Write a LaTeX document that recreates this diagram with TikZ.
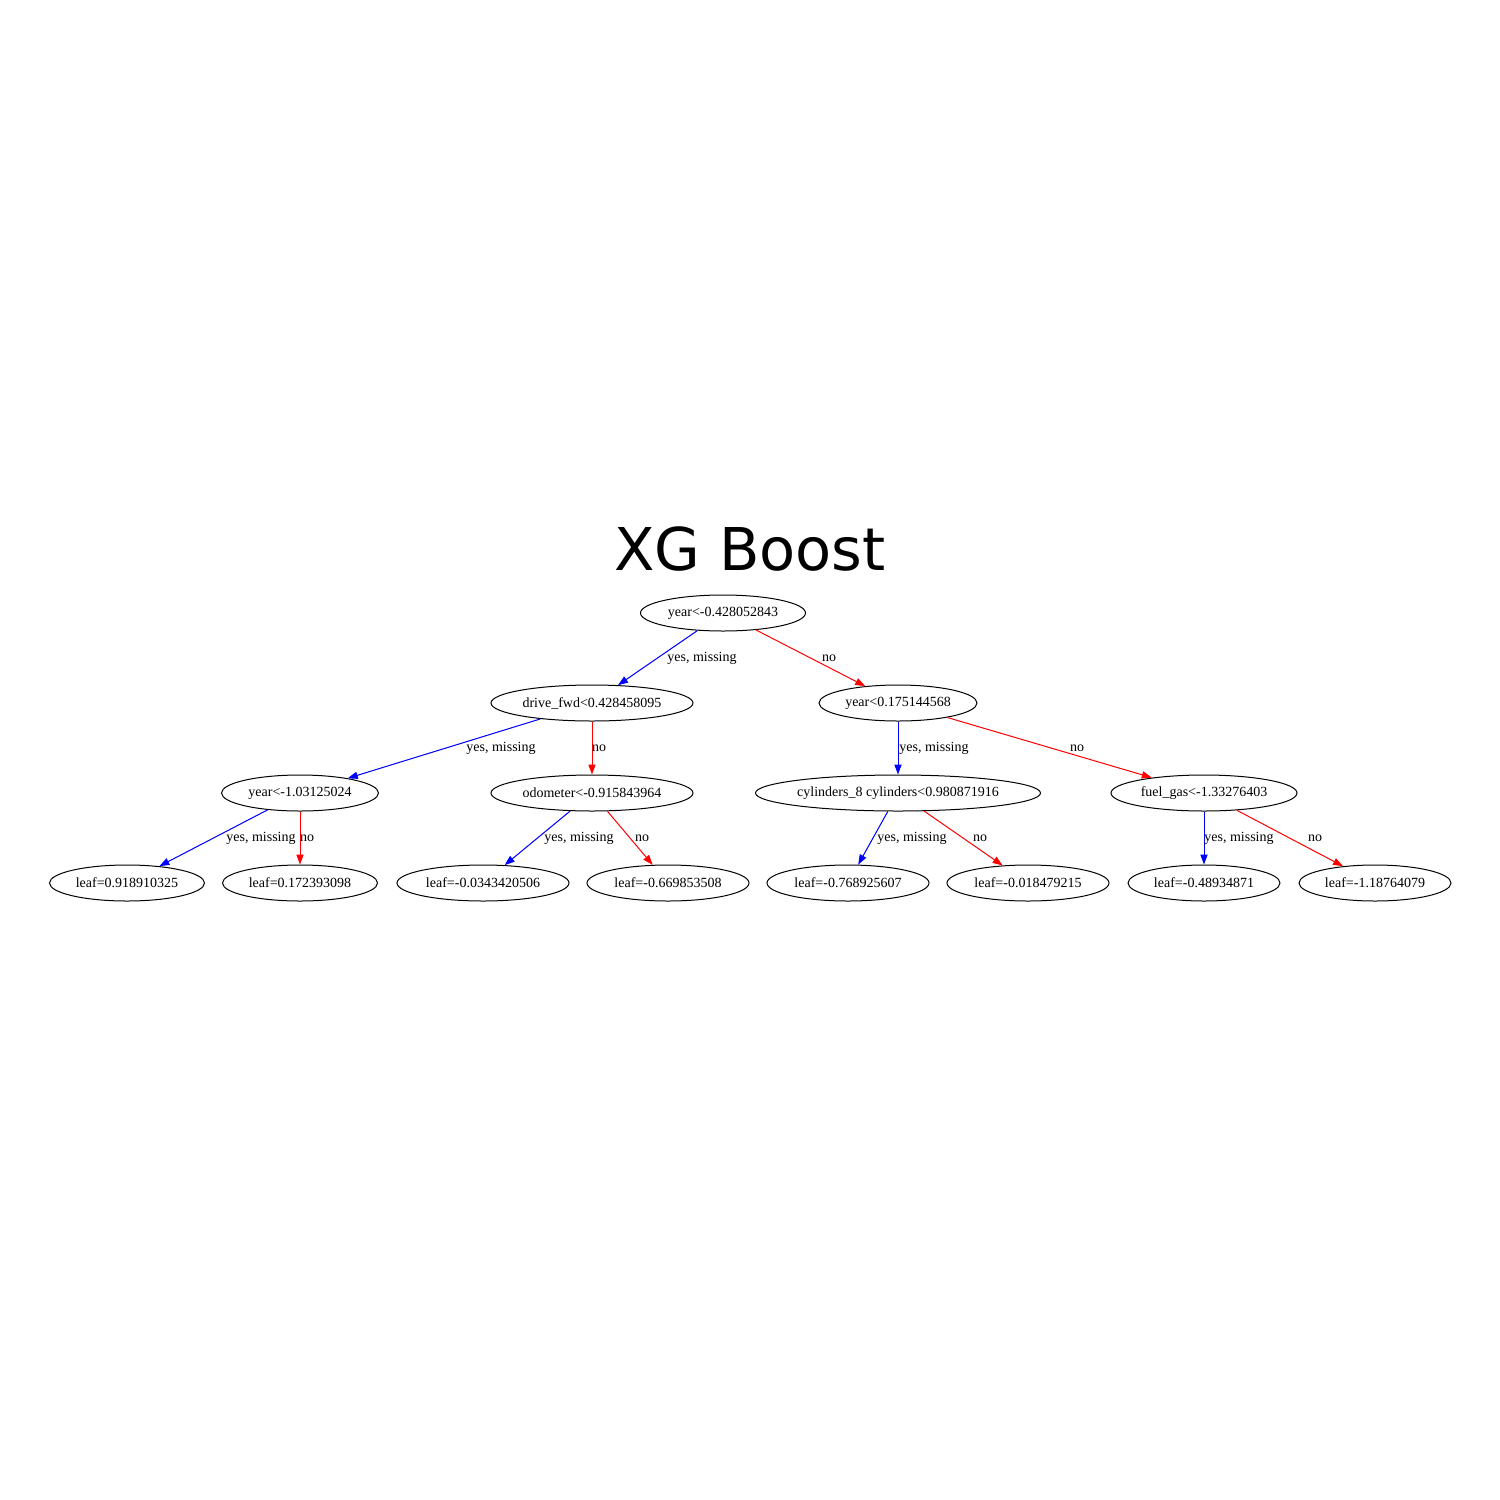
\documentclass[tikz,border=0pt]{standalone}
\usepackage{fontspec}
\setmainfont{Liberation Serif}
\newfontfamily\titlefont{DejaVu Sans}
\usetikzlibrary{shapes.geometric,arrows.meta}
\tikzset{
  tnode/.style={ellipse,draw=black,line width=0.5pt,inner sep=0pt,minimum height=18pt,font=\fontsize{7}{8.4}\selectfont},
  yesedge/.style={draw={rgb,255:red,0;green,0;blue,255},line width=0.5pt,-{Triangle[length=5pt,width=3.6pt]},fill={rgb,255:red,0;green,0;blue,255}},
  noedge/.style={draw={rgb,255:red,255;green,0;blue,0},line width=0.5pt,-{Triangle[length=5pt,width=3.6pt]}},
  elab/.style={inner sep=0pt,font=\fontsize{7}{8.4}\selectfont}
}
\begin{document}
\begin{tikzpicture}[x=0.5pt,y=-0.5pt]
\useasboundingbox[fill=white] (0,0) rectangle (1500,1500);
\node[anchor=base,inner sep=0pt,font=\titlefont\fontsize{29.5}{34}\selectfont] (title) at (750,570) {XG Boost};
% level 0
\node[tnode,minimum width=82.5pt] (r) at (723,613) {year<-0.428052843};
% level 1
\node[tnode,minimum width=101pt] (a) at (592,703) {drive\_fwd<0.428458095};
\node[tnode,minimum width=79pt] (b) at (898,703) {year<0.175144568};
% level 2
\node[tnode,minimum width=78.5pt] (aa) at (300,793) {year<-1.03125024};
\node[tnode,minimum width=101pt] (ab) at (592,793) {odometer<-0.915843964};
\node[tnode,minimum width=141.5pt] (ba) at (898,793) {cylinders\_8 cylinders<0.980871916};
\node[tnode,minimum width=93pt] (bb) at (1204,793) {fuel\_gas<-1.33276403};
% leaves
\node[tnode,minimum width=77.5pt] (l1) at (127,883) {leaf=0.918910325};
\node[tnode,minimum width=77.5pt] (l2) at (300,883) {leaf=0.172393098};
\node[tnode,minimum width=86pt] (l3) at (483,883) {leaf=-0.0343420506};
\node[tnode,minimum width=81pt] (l4) at (668,883) {leaf=-0.669853508};
\node[tnode,minimum width=81pt] (l5) at (848,883) {leaf=-0.768925607};
\node[tnode,minimum width=81pt] (l6) at (1028,883) {leaf=-0.018479215};
\node[tnode,minimum width=76pt] (l7) at (1204,883) {leaf=-0.48934871};
\node[tnode,minimum width=76pt] (l8) at (1375,883) {leaf=-1.18764079};
% edges
\draw[yesedge] (r) -- (a);
\draw[noedge] (r) -- (b);
\draw[yesedge] (a) -- (aa);
\draw[noedge] (a) -- (ab);
\draw[yesedge] (b) -- (ba);
\draw[noedge] (b) -- (bb);
\draw[yesedge] (aa) -- (l1);
\draw[noedge] (aa) -- (l2);
\draw[yesedge] (ab) -- (l3);
\draw[noedge] (ab) -- (l4);
\draw[yesedge] (ba) -- (l5);
\draw[noedge] (ba) -- (l6);
\draw[yesedge] (bb) -- (l7);
\draw[noedge] (bb) -- (l8);
% edge labels
\node[elab] (t1) at (702,658) {yes, missing};
\node[elab] (t2) at (829,658) {no};
\node[elab] (t3) at (501,748) {yes, missing};
\node[elab] (t4) at (599,748) {no};
\node[elab] (t5) at (934,748) {yes, missing};
\node[elab] (t6) at (1077,748) {no};
\node[elab] (t7) at (261,838) {yes, missing};
\node[elab] (t8) at (307,838) {no};
\node[elab] (t9) at (579,838) {yes, missing};
\node[elab] (t10) at (642,838) {no};
\node[elab] (t11) at (912,838) {yes, missing};
\node[elab] (t12) at (980,838) {no};
\node[elab] (t13) at (1239,838) {yes, missing};
\node[elab] (t14) at (1315,838) {no};
\end{tikzpicture}
\end{document}
